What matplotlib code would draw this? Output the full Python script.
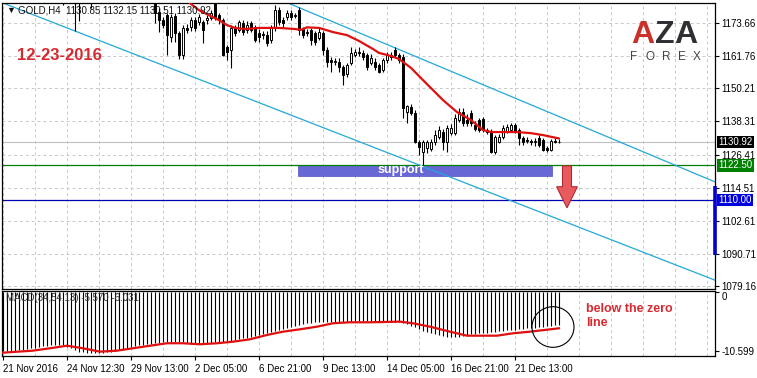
import matplotlib

matplotlib.use("Agg")
import matplotlib.pyplot as plt
import matplotlib.transforms as mtransforms
from matplotlib.patches import Rectangle, FancyArrow, Ellipse
import numpy as np

plt.rcParams["font.family"] = ["Liberation Sans", "DejaVu Sans"]

W, H = 757, 378

# ---- price data (GOLD H4), 140 bars, oldest first ----
OPENS = [
    1209, 1211, 1210, 1207, 1209, 1208, 1205, 1207, 1204, 1198,
    1194, 1191, 1189, 1187, 1188, 1185, 1184, 1185, 1183, 1182,
    1184, 1186, 1185, 1184, 1187, 1189, 1191, 1190, 1192, 1190,
    1188, 1189, 1187, 1188, 1186, 1187, 1185, 1186, 1183, 1177.7,
    1174.9, 1176.6, 1168.7, 1176.3, 1170.2, 1162.3, 1172.0, 1172.3, 1174.9, 1174.1,
    1174.1, 1174.8, 1175.6, 1182.0, 1176.6, 1174.9, 1165.1, 1164.1, 1172.0, 1171.3,
    1173.8, 1171.3, 1173.8, 1172.3, 1170.2, 1169.8, 1169.5, 1167.6, 1172.0, 1178.5,
    1174.8, 1175.9, 1177.4, 1176.2, 1178.4, 1171.6, 1170.5, 1171.3, 1170.2, 1168.4,
    1170.2, 1164.1, 1160.4, 1159.7, 1159.7, 1157.9, 1155.4, 1159.4, 1162.3, 1163.3,
    1163.0, 1162.3, 1159.4, 1159.7, 1158.6, 1156.8, 1160.4, 1162.3, 1164.1, 1162.3,
    1161.5, 1141.7, 1143.5, 1141.4, 1130.9, 1127.3, 1128.8, 1128.4, 1130.9, 1132.7,
    1134.5, 1130.9, 1134.2, 1134.2, 1138.8, 1141.7, 1138.8, 1141.4, 1137.0, 1138.8,
    1139.2, 1135.2, 1134.5, 1127.3, 1131.0, 1132.7, 1134.5, 1135.2, 1137.0, 1135.2,
    1132.4, 1131.6, 1131.3, 1130.9, 1132.4, 1131.6, 1128.8, 1128.0, 1131.3, 1130.85,
]
HIGHS = [
    1213, 1215, 1213, 1211, 1212, 1210, 1209, 1210, 1206, 1201,
    1197, 1194, 1192, 1190, 1190, 1188, 1187, 1187, 1186, 1185,
    1188, 1189, 1187, 1188, 1191, 1193, 1194, 1193, 1195, 1192,
    1191, 1192, 1190, 1191, 1189, 1190, 1188, 1188, 1186, 1179,
    1176, 1177.5, 1177, 1177.5, 1171, 1173, 1173.5, 1176, 1176, 1177,
    1175, 1176.5, 1178.5, 1184, 1177.5, 1175.5, 1166, 1173, 1173, 1175,
    1175, 1174.5, 1174.5, 1173, 1171.5, 1171, 1171, 1173, 1180.3, 1179.5,
    1176, 1178.5, 1178.5, 1177.5, 1179.5, 1172.5, 1171.5, 1172, 1171, 1172,
    1171, 1165, 1161.5, 1161, 1161, 1158.5, 1159.5, 1165.1, 1164.5, 1165.1,
    1164, 1163, 1162.5, 1161, 1159.5, 1161, 1163.2, 1163.5, 1165.1, 1163,
    1162.5, 1144.2, 1144.5, 1142.4, 1131.5, 1131.5, 1131.5, 1132, 1135.2, 1136.5,
    1135.5, 1137, 1137.5, 1141, 1143.2, 1143, 1141, 1142.5, 1138.5, 1139.5,
    1140, 1136, 1135.5, 1133.5, 1133.8, 1137, 1137.5, 1137.8, 1137.7, 1136,
    1133, 1132.8, 1132, 1132.5, 1133.4, 1132.5, 1129.5, 1132, 1132.2, 1132.15,
]
LOWS = [
    1206, 1208, 1205, 1204, 1206, 1203, 1202, 1203, 1196, 1192,
    1189, 1186, 1185, 1184, 1183, 1180.2, 1182, 1182, 1170.9, 1174.5,
    1182.5, 1183, 1179.2, 1182, 1185, 1187, 1188, 1187, 1189, 1186,
    1185, 1186, 1184, 1185, 1183, 1184, 1182, 1182.5, 1173.7, 1170.5,
    1172, 1162.3, 1167, 1166.9, 1160.8, 1160.8, 1170, 1171, 1171, 1173,
    1166.6, 1173.5, 1175, 1175, 1173.5, 1162, 1160.5, 1157.6, 1169, 1170.5,
    1169.5, 1170, 1170.5, 1167, 1167, 1168, 1165.5, 1166.5, 1171, 1173,
    1172.3, 1175, 1175, 1175.5, 1169.5, 1168.5, 1169, 1165.9, 1166, 1167.5,
    1162.3, 1157.9, 1156.1, 1158.5, 1156.1, 1151.4, 1154.5, 1158.5, 1161.5, 1162,
    1160.5, 1156.8, 1158.5, 1156.8, 1155.8, 1156, 1159.5, 1160.5, 1161.5, 1159.5,
    1139.6, 1137.8, 1140.5, 1130.5, 1126.2, 1122.6, 1127, 1127.5, 1130, 1132,
    1128.0, 1127.3, 1133.5, 1133.4, 1138, 1136.5, 1136.8, 1136.5, 1134.8, 1134.5,
    1134.5, 1133.8, 1127.0, 1126.5, 1130.5, 1132, 1134, 1134.5, 1134, 1129.8,
    1129.8, 1130.5, 1129.8, 1129.5, 1129, 1127.5, 1127.3, 1127.5, 1130.5, 1130.51,
]
CLOSES = [
    1211, 1210, 1207, 1209, 1208, 1205, 1207, 1204, 1198, 1194,
    1191, 1189, 1187, 1188, 1185, 1184, 1185, 1183, 1182, 1184,
    1186, 1185, 1184, 1187, 1189, 1191, 1190, 1192, 1190, 1188,
    1189, 1187, 1188, 1186, 1187, 1185, 1186, 1183, 1177.4, 1174.9,
    1173.0, 1169.5, 1175.9, 1170.2, 1162.3, 1172.0, 1171.3, 1174.9, 1172.0, 1175.9,
    1171.3, 1175.6, 1177.4, 1175.9, 1174.9, 1162.3, 1163.3, 1172.0, 1170.2, 1174.1,
    1170.5, 1173.0, 1171.3, 1167.6, 1168.7, 1169.5, 1166.6, 1172.0, 1178.5, 1174.1,
    1173.8, 1177.4, 1175.9, 1176.6, 1171.3, 1169.5, 1170.2, 1167.6, 1166.9, 1170.5,
    1164.1, 1159.7, 1159.7, 1160.0, 1157.9, 1155.0, 1158.6, 1163.0, 1163.3, 1163.0,
    1161.5, 1157.9, 1161.2, 1157.9, 1156.1, 1160.4, 1162.3, 1161.5, 1162.3, 1160.4,
    1143.2, 1143.9, 1141.4, 1130.9, 1129.1, 1130.9, 1130.9, 1130.9, 1133.4, 1135.2,
    1130.9, 1136.0, 1136.0, 1139.6, 1141.7, 1137.8, 1137.8, 1137.8, 1135.5, 1135.2,
    1135.2, 1134.5, 1127.3, 1132.7, 1132.7, 1136.0, 1136.3, 1137.0, 1134.5, 1132.4,
    1130.9, 1131.4, 1130.9, 1131.3, 1129.8, 1128.0, 1128.0, 1131.3, 1131.0, 1130.92,
]

# moving average (red): bar index -> price
MA_IDX = [44, 47, 49, 52, 54, 56, 58, 60.5, 64, 69, 73, 74.5, 76, 79, 82.5, 86, 89,
          92.5, 94, 97, 99, 102, 105, 107.5, 110, 113.5, 117, 120, 122, 128.5, 132, 135, 139]
MA_VAL = [1184.5, 1180.6, 1178.4, 1176.2, 1174.8, 1173.0, 1172.0, 1171.6, 1172.0, 1172.0,
          1171.6, 1171.3, 1172.2, 1172.0, 1170.5, 1169.4, 1167.3, 1164.4, 1163.0, 1161.9,
          1160.8, 1157.6, 1153.2, 1149.6, 1146.0, 1141.7, 1138.8, 1135.2, 1134.5, 1134.5,
          1134.1, 1133.4, 1132.2]

# MACD(34,54,13) histogram, one value per bar
MACD_HIST = [
    -10.60, -10.58, -10.55, -10.52, -10.50, -10.40, -10.30, -10.10, -10.00, -9.90,
    -9.75, -9.62, -9.52, -9.50, -9.50, -9.55, -9.80, -10.06, -10.40, -10.72,
    -10.85, -10.92, -10.96, -10.96, -10.95, -10.94, -10.85, -10.72, -10.58, -10.42,
    -10.25, -10.05, -9.85, -9.70, -9.55, -9.45, -9.39, -9.30, -9.20, -9.11,
    -9.05, -8.98, -8.93, -8.90, -8.92, -8.93, -9.10, -9.34, -9.36, -9.36,
    -9.34, -9.20, -9.10, -9.00, -8.95, -8.90, -8.85, -8.80, -8.65, -8.50,
    -8.35, -8.20, -8.08, -7.90, -7.72, -7.54, -7.36, -7.20, -7.00, -6.82,
    -6.65, -6.48, -6.30, -6.12, -5.93, -5.80, -5.65, -5.52, -5.45, -5.39,
    -5.36, -5.34, -5.33, -5.33, -5.33, -5.33, -5.33, -5.33, -5.30, -5.28,
    -5.28, -5.27, -5.27, -5.28, -5.30, -5.30, -5.30, -5.31, -5.32, -5.33,
    -5.50, -5.80, -6.10, -6.35, -6.65, -6.95, -7.15, -7.31, -7.50, -7.70,
    -7.90, -8.03, -8.05, -8.05, -8.00, -7.90, -7.72, -7.62, -7.52, -7.42,
    -7.35, -7.28, -7.20, -7.13, -7.05, -6.98, -6.90, -6.83, -6.76, -6.68,
    -6.60, -6.52, -6.48, -6.42, -6.34, -6.23, -6.15, -6.08, -6.00, -5.93,
]
# MACD signal line (red)
SIG_IDX = [0, 7.5, 11.75, 16, 20, 24.25, 28.5, 32.5, 36.75, 41, 45, 49.25, 53.5, 57.5,
           61.75, 66, 70, 74.25, 78.5, 82.5, 86.75, 91.75, 99.25, 102.5, 106.75, 111.75,
           116, 123.5, 127.5, 131.75, 139]
SIG_VAL = [-10.90, -10.54, -10.11, -9.65, -10.11, -10.72, -10.54, -10.11, -9.65, -9.21,
           -9.21, -9.39, -9.21, -8.93, -8.50, -7.72, -7.13, -6.70, -6.23, -5.62, -5.44,
           -5.44, -5.33, -5.62, -6.23, -7.13, -7.85, -7.85, -7.42, -7.13, -6.52]

# chart objects
UPPER_LINE = [(71.25, 1180.97), (178.0, 1116.55)]
LOWER_LINE = [(0.0, 1180.97), (177.75, 1081.3)]
BID = 1130.92
SUPPORT_LEVEL = 1122.50
TARGET_LEVEL = 1110.00
SUPPORT_BOX = (73.75, 137.25, 1118.7, 1122.64)  # x0, x1, y0, y1

Y_TICKS = [1173.66, 1161.76, 1150.21, 1138.31, 1126.41, 1114.51, 1102.61, 1090.71, 1079.16]
X_TICKS = [0, 16, 32, 48, 64, 80, 96, 112, 128]
X_LABELS = ["21 Nov 2016", "24 Nov 12:30", "29 Nov 13:00", "2 Dec 05:00", "6 Dec 21:00",
            "9 Dec 13:00", "14 Dec 05:00", "16 Dec 21:00", "21 Dec 13:00"]

GRID = dict(color="#c8c8c8", lw=0.7, ls=(0, (3, 3)), zorder=0.5)
CYAN = "#22a8d8"
RED = "#e01010"


def fx(px):
    return px / W


def fy(py):
    return 1 - py / H


fig = plt.figure(figsize=(W / 100, H / 100), dpi=100)
fig.patch.set_facecolor("white")
ax = fig.add_axes([fx(2), fy(289), fx(713), 286 / H])
axm = fig.add_axes([fx(2), fy(356), fx(713), 65 / H])

idx = np.arange(len(CLOSES))
o, h, l, c = map(np.array, (OPENS, HIGHS, LOWS, CLOSES))

# ---- main panel ----
ax.set_xlim(-0.25, 178)
ax.set_ylim(1077.98, 1180.97)
for g in range(0, 180, 8):
    ax.axvline(g, **GRID)
for t in Y_TICKS:
    ax.axhline(t, **GRID)

x0, x1, y0, y1 = SUPPORT_BOX
ax.add_patch(Rectangle((x0, y0), x1 - x0, y1 - y0, fc="#6767d6", ec="#5252c4", lw=0.5, zorder=1))
ax.text((x0 + x1) / 2 - 6, (y0 + y1) / 2, "support", color="white", fontsize=9,
        fontweight="bold", ha="center", va="center", zorder=6)

ax.axhline(BID, color="#c0c0c0", lw=0.8, zorder=1.2)
ax.axhline(SUPPORT_LEVEL, color="#008000", lw=0.9, zorder=1.2)
ax.axhline(TARGET_LEVEL, color="#0000b4", lw=0.9, zorder=1.2)
ax.axline(*UPPER_LINE, color=CYAN, lw=0.9, zorder=2)
ax.axline(*LOWER_LINE, color=CYAN, lw=0.9, zorder=2)

ax.vlines(idx, l, h, color="black", lw=0.8, zorder=3)
up = c >= o
ax.bar(idx, np.abs(c - o), bottom=np.minimum(o, c), width=0.7,
       color=np.where(up, "white", "black"), edgecolor="black", lw=0.7, zorder=3.5)
ax.plot(MA_IDX, MA_VAL, color=RED, lw=1.6, zorder=4, solid_capstyle="round")

# sell arrow
ax.add_patch(FancyArrow(141, 1122.3, 0, -15.1, width=2.25, head_width=5.2, head_length=7.6,
                        length_includes_head=True, fc="#e95a5e", ec="#b02a30", lw=0.8, zorder=5))

ax.yaxis.tick_right()
ax.set_yticks(Y_TICKS)
ax.set_yticklabels([f"{t:.2f}" for t in Y_TICKS])
ax.tick_params(axis="y", direction="out", length=3, width=0.8, pad=1.5, labelsize=7)
ax.set_xticks([])
for s in ax.spines.values():
    s.set_color("black")
    s.set_linewidth(0.9)

# price tags on the scale
for val, bg in ((BID, "black"), (SUPPORT_LEVEL, "#008000"), (TARGET_LEVEL, "#0000dd")):
    ax.annotate(f"{val:.2f}", xy=(1, val), xycoords=("axes fraction", "data"),
                xytext=(2.5, 0), textcoords="offset points", ha="left", va="center",
                fontsize=7, color="white", annotation_clip=False,
                bbox=dict(boxstyle="square,pad=0.12", fc=bg, ec="none"), zorder=10)
trans = mtransforms.blended_transform_factory(ax.transAxes, ax.transData)
ax.plot([1.0005, 1.0005], [1115.0, 1090.1], transform=trans, color="#0000cc", lw=2.6,
        clip_on=False, zorder=10, solid_capstyle="butt")

# ---- MACD panel ----
axm.set_xlim(-0.25, 178)
axm.set_ylim(-11.5, 0.18)
for g in range(0, 180, 8):
    axm.axvline(g, **GRID)
axm.vlines(idx, MACD_HIST, 0, color="black", lw=0.8, zorder=2)
axm.plot(SIG_IDX, SIG_VAL, color=RED, lw=1.6, zorder=3)
axm.add_patch(Ellipse((137.5, -6.29), 10.5, 7.3, fill=False, ec="black", lw=0.8, zorder=4))

axm.yaxis.tick_right()
axm.set_yticks([0, -10.599])
axm.set_yticklabels(["0", "-10.599"])
axm.tick_params(axis="y", direction="out", length=3, width=0.8, pad=1.5, labelsize=7)
axm.get_yticklabels()[0].set_va("top")
axm.set_xticks(X_TICKS)
axm.set_xticklabels(X_LABELS, ha="left")
axm.tick_params(axis="x", direction="out", length=3, width=0.8, pad=3, labelsize=7)
for s in axm.spines.values():
    s.set_color("black")
    s.set_linewidth(0.9)

# ---- texts ----
fig.text(fx(6.5), fy(10.5), "\u25bc", fontsize=6.5, color="#111", va="center", ha="left")
fig.text(fx(18), fy(10.5), "GOLD,H4  1130.85 1132.15 1130.51 1130.92", fontsize=7,
         color="#111", va="center", ha="left")
fig.text(fx(6), fy(298), "MACD(34,54,13) -5.570 -6.031", fontsize=7, color="#333",
         va="center", ha="left")
fig.text(fx(17), fy(55.5), "12-23-2016", fontsize=12, fontweight="bold", color="#d62a30",
         va="center", ha="left")
fig.text(fx(586), fy(316), "below the zero\nline", fontsize=9, fontweight="bold",
         color="#d62a30", va="center", ha="left", linespacing=1.25)

# logo
for ch, px, col in (("A", 643, "#c8302c"), ("Z", 665, "#2f2f33"), ("A", 686, "#2f2f33")):
    fig.text(fx(px), fy(35), ch, fontsize=23, fontweight="bold", color=col,
             ha="center", va="center")
for ch, px in zip("FOREX", (634, 650, 666, 682, 697)):
    fig.text(fx(px), fy(57.5), ch, fontsize=8.5, color="#444", ha="center", va="center")

fig.savefig("out.png", dpi=100)
